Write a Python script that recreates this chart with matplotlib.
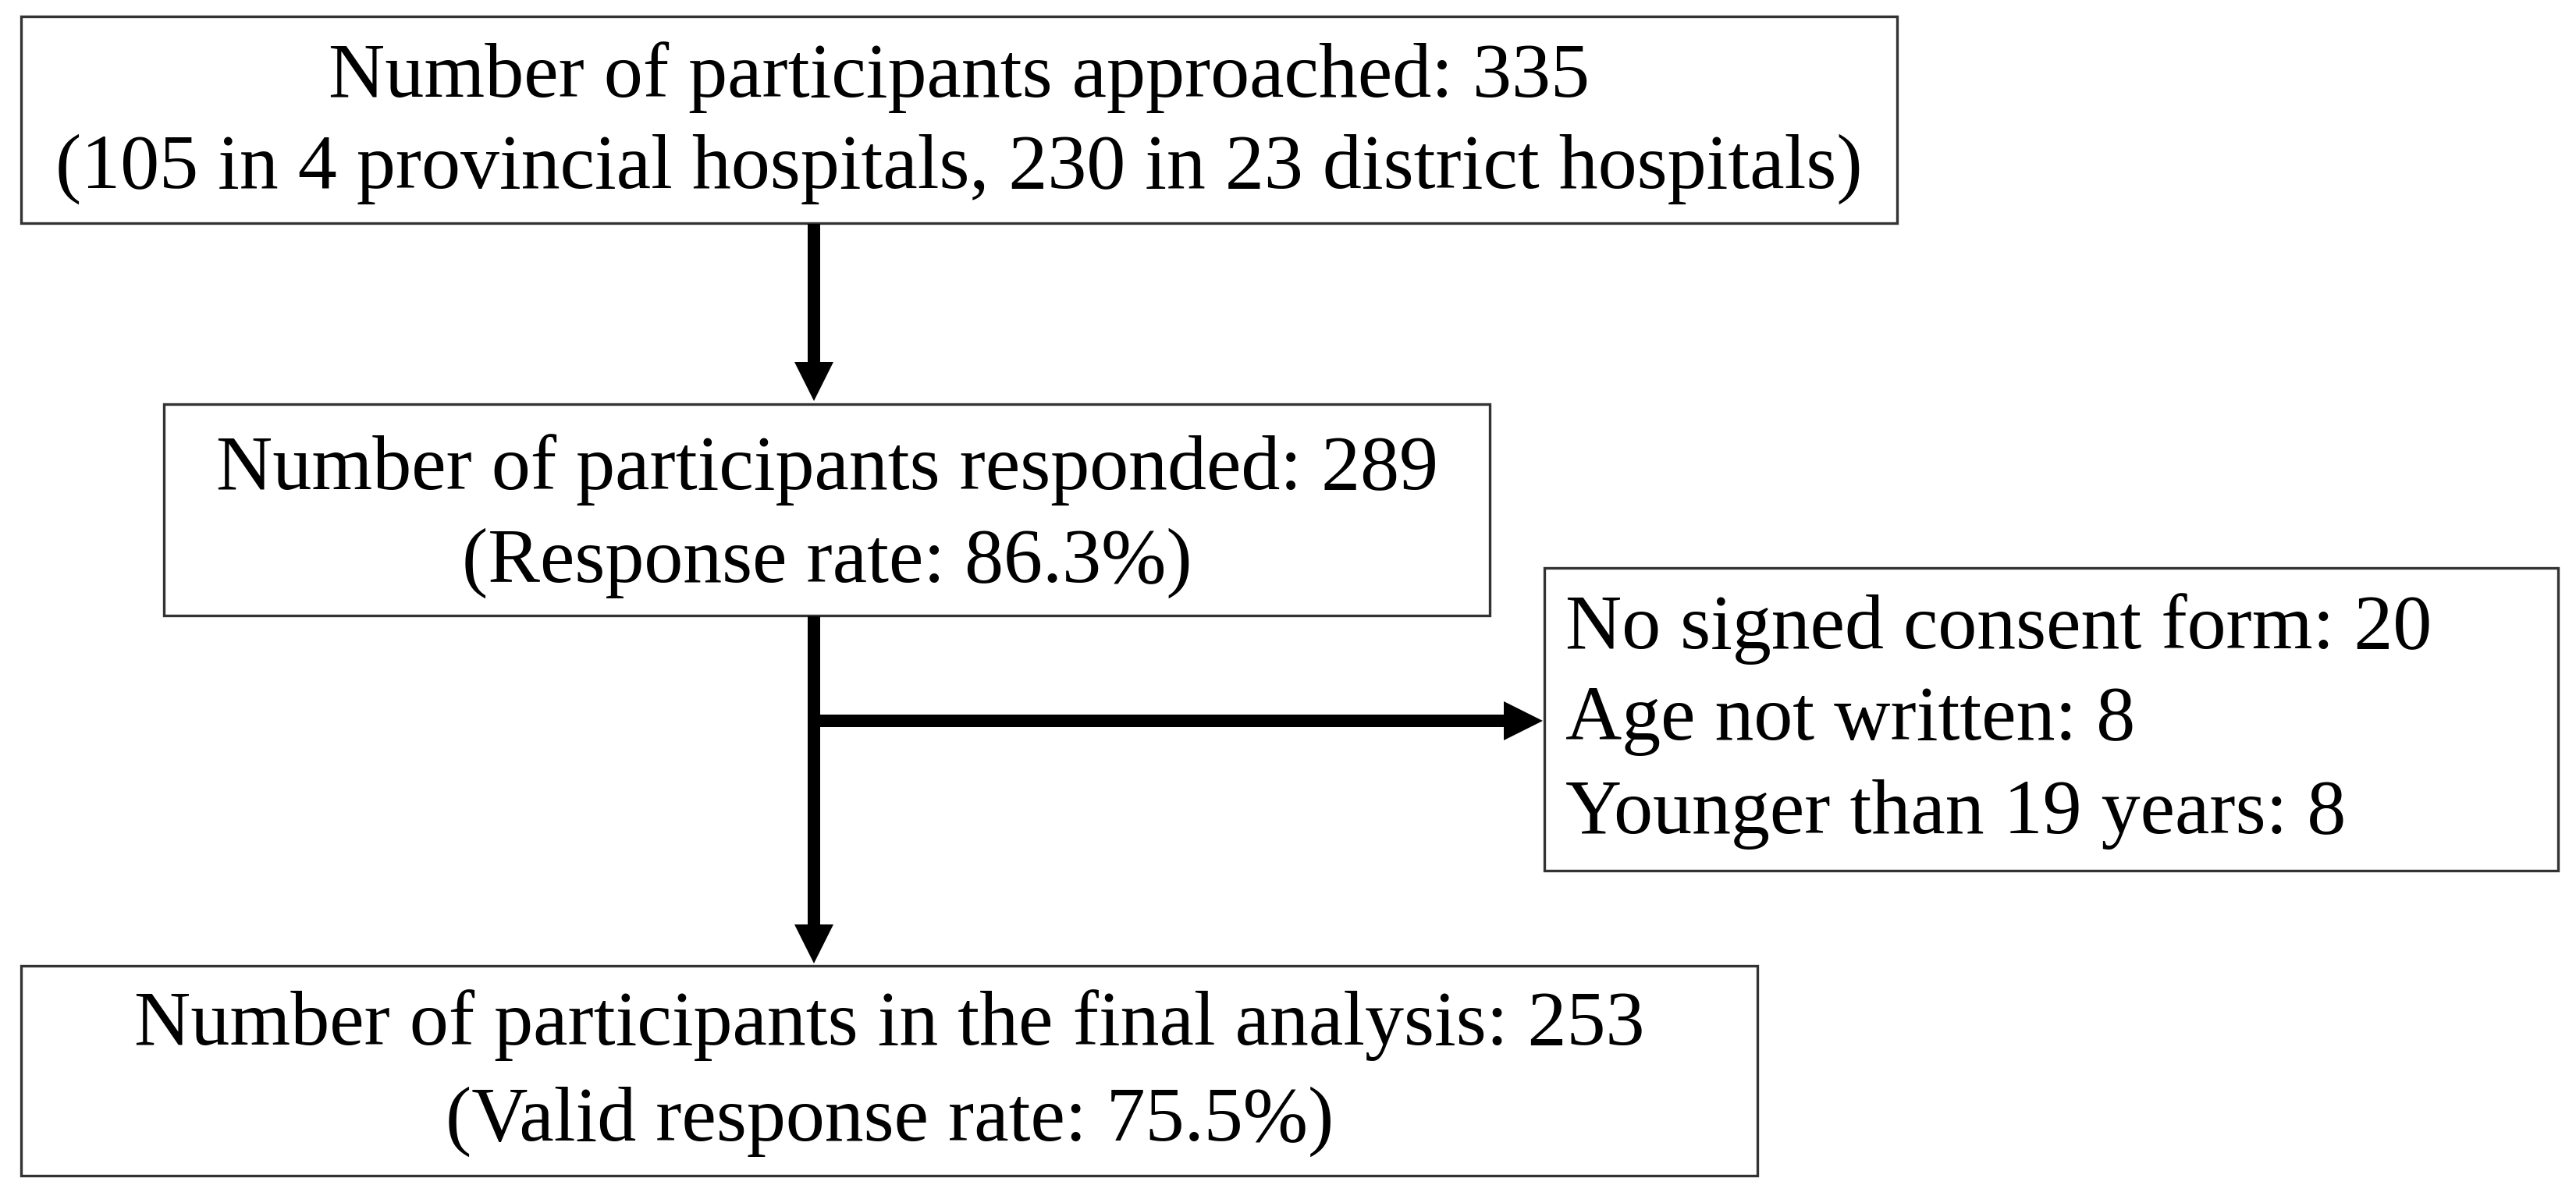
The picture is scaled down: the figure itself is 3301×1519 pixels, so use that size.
import matplotlib.pyplot as plt
from matplotlib.patches import Rectangle, FancyArrow

plt.rcParams['font.family'] = ['Liberation Serif', 'DejaVu Serif']

# box texts
top_lines = ["Number of participants approached: 335",
             "(105 in 4 provincial hospitals, 230 in 23 district hospitals)"]
mid_lines = ["Number of participants responded: 289",
             "(Response rate: 86.3%)"]
excl_lines = ["No signed consent form: 20",
              "Age not written: 8",
              "Younger than 19 years: 8"]
final_lines = ["Number of participants in the final analysis: 253",
               "(Valid response rate: 75.5%)"]

W, H = 3301, 1519
fig = plt.figure(figsize=(W / 100, H / 100), dpi=100)
ax = fig.add_axes([0, 0, 1, 1])
ax.set_xlim(0, W)
ax.set_ylim(H, 0)
ax.axis('off')

FS = 72


def box(x0, y0, x1, y1):
    ax.add_patch(Rectangle((x0, y0), x1 - x0, y1 - y0, fill=False,
                           edgecolor='#333333', lw=2.4))


def arrow(x0, y0, x1, y1):
    ax.add_patch(FancyArrow(x0, y0, x1 - x0, y1 - y0, width=16,
                            head_width=50, head_length=50,
                            length_includes_head=True, color='black', lw=0))


# top box
box(27, 21, 2431, 286)
for txt, y in zip(top_lines, [99, 217]):
    ax.text(1229, y, txt, ha='center', va='center', fontsize=FS)

# middle box
box(210, 518, 1909, 789)
for txt, y in zip(mid_lines, [602, 722]):
    ax.text(1060, y, txt, ha='center', va='center', fontsize=FS)

# exclusion box
box(1979, 728, 3278, 1116)
for txt, y in zip(excl_lines, [806, 924, 1044]):
    ax.text(2006, y, txt, ha='left', va='center', fontsize=FS)

# final box
box(27, 1238, 2252, 1507)
for txt, y in zip(final_lines, [1314, 1438]):
    ax.text(1140, y, txt, ha='center', va='center', fontsize=FS)

# arrows
arrow(1043, 287, 1043, 514)
arrow(1043, 790, 1043, 1235)
arrow(1036, 924, 1977, 924)

fig.savefig('out.png', dpi=100)
